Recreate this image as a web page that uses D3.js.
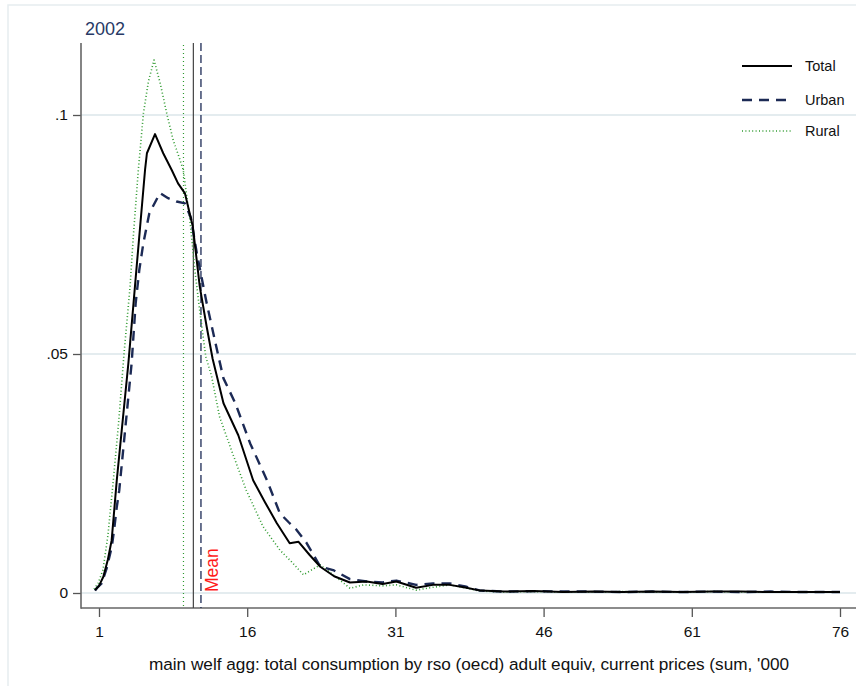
<!DOCTYPE html>
<html>
<head>
<meta charset="utf-8">
<script src="https://cdn.jsdelivr.net/npm/d3@7/dist/d3.min.js"></script>
<style>
  body { margin: 0; background: #fff; }
  svg text { font-family: "Liberation Sans", Arial, sans-serif; }
</style>
</head>
<body>
<svg id="chart" width="856" height="686"></svg>
<script>
// density estimates
var totalX = [0.6, 1.0, 1.44, 1.9, 2.28, 2.8, 3.97, 4.8, 5.66, 5.85, 6.67, 7.5, 8.36, 9.0, 9.7, 10.5, 11.2, 11.9, 12.5, 13.6, 15.1, 16.6, 17.8, 19.0, 20.3, 21.2, 22.3, 23.4, 24.8, 26.4, 28.1, 29.7, 31.1, 33.1, 34.8, 36.5, 38.2, 39.6, 42, 45, 48, 51, 54, 57, 60, 63, 66, 69, 72, 76];
var totalY = [0.0006, 0.0015, 0.0034, 0.007, 0.011, 0.0236, 0.048, 0.068, 0.0885, 0.092, 0.096, 0.092, 0.0885, 0.0857, 0.0836, 0.0766, 0.0641, 0.0557, 0.049, 0.0397, 0.033, 0.0236, 0.019, 0.0146, 0.0104, 0.0107, 0.008, 0.0055, 0.0035, 0.0022, 0.0024, 0.0019, 0.0024, 0.0011, 0.0017, 0.0017, 0.0011, 0.0005, 0.0003, 0.0004, 0.0002, 0.0003, 0.0002, 0.0003, 0.0002, 0.0003, 0.0003, 0.0002, 0.0002, 0.0002];

var urbanX = [0.6, 0.77, 1.27, 1.78, 2.3, 2.55, 2.8, 3.05, 4.3, 4.71, 5.08, 5.49, 6.09, 7.17, 8.0, 8.86, 9.7, 10.3, 10.9, 11.9, 13.1, 13.6, 14.8, 16.3, 18.0, 19.3, 20.2, 21.0, 22.0, 23.4, 24.7, 26.4, 28.1, 29.7, 31.1, 33.1, 34.8, 36.5, 38.2, 39.6, 42, 45, 48, 51, 54, 57, 60, 63, 66, 69, 72, 76];
var urbanY = [0.0005, 0.001, 0.002, 0.0052, 0.0097, 0.0136, 0.018, 0.0215, 0.048, 0.0606, 0.0676, 0.0732, 0.0794, 0.0837, 0.0826, 0.0819, 0.0815, 0.0785, 0.0711, 0.0606, 0.0494, 0.0449, 0.0397, 0.0313, 0.0236, 0.0167, 0.0148, 0.0132, 0.0105, 0.0055, 0.0048, 0.0029, 0.0024, 0.0022, 0.0026, 0.0017, 0.002, 0.002, 0.0013, 0.0005, 0.0003, 0.0004, 0.0003, 0.0003, 0.0002, 0.0003, 0.0002, 0.0003, 0.0002, 0.0003, 0.0002, 0.0002];

var ruralX = [0.5, 0.9, 1.4, 1.9, 2.45, 3.0, 3.53, 4.14, 4.47, 4.98, 5.5, 6.0, 6.57, 7.2, 7.85, 8.5, 9.2, 9.53, 10.2, 10.7, 11.2, 11.8, 12.4, 13.2, 14.4, 15.9, 17.6, 19.3, 20.5, 21.7, 22.5, 23.4, 24.7, 26.4, 27.8, 29.7, 31.1, 33.1, 34.8, 36.5, 38.2, 39.6, 42, 45, 48, 51, 54, 57, 60, 63, 66, 69, 72, 76];
var ruralY = [0.0008, 0.002, 0.0048, 0.012, 0.0236, 0.036, 0.050, 0.064, 0.0745, 0.0885, 0.1004, 0.107, 0.1115, 0.1066, 0.1004, 0.0948, 0.0906, 0.0885, 0.078, 0.0676, 0.059, 0.0495, 0.0453, 0.0369, 0.0299, 0.0215, 0.0139, 0.009, 0.0065, 0.0038, 0.0048, 0.0059, 0.0038, 0.001, 0.0017, 0.0015, 0.0017, 0.0006, 0.0012, 0.0017, 0.001, 0.0004, 0.0002, 0.0003, 0.0002, 0.0002, 0.0003, 0.0002, 0.0002, 0.0003, 0.0002, 0.0002, 0.0002, 0.0002];

// means (vertical reference lines)
var meanTotal = 10.55, meanUrban = 11.32, meanRural = 9.55;

var xTicks = [1, 16, 31, 46, 61, 76];
var yTicks = [0, 0.05, 0.1];
var yTickLabels = ["0", ".05", ".1"];
var seriesNames = ["Total", "Urban", "Rural"];

const svg = d3.select("#chart");
const plotLeft = 81, plotTop = 43, plotRight = 856, plotBottom = 608;

var x = d3.scaleLinear().domain([1, 76]).range([99, 840]);
var y = d3.scaleLinear().domain([0, 0.1]).range([593, 115]);

// outer frame
svg.append("rect")
    .attr("x", 8).attr("y", 5)
    .attr("width", 900).attr("height", 700)
    .attr("fill", "none")
    .attr("stroke", "#e6edf0")
    .attr("stroke-width", 1.5);

// gridlines
svg.append("g").selectAll("line")
    .data(yTicks)
    .enter().append("line")
    .attr("x1", plotLeft).attr("x2", plotRight)
    .attr("y1", d => y(d)).attr("y2", d => y(d))
    .attr("stroke", "#e4ecef")
    .attr("stroke-width", 2);

// axes
var yAxis = svg.append("g")
    .attr("transform", "translate(" + plotLeft + ",0)")
    .call(d3.axisLeft(y).tickValues(yTicks)
        .tickFormat((d, i) => yTickLabels[i])
        .tickSize(8).tickPadding(5));
var xAxis = svg.append("g")
    .attr("transform", "translate(0," + plotBottom + ")")
    .call(d3.axisBottom(x).tickValues(xTicks)
        .tickFormat(d3.format("d"))
        .tickSize(9).tickPadding(9));

[yAxis, xAxis].forEach(a => {
    a.select(".domain").remove();
    a.selectAll(".tick line").attr("stroke", "#555").attr("stroke-width", 1.3);
    a.selectAll(".tick text").attr("fill", "#111").style("font-size", "15.5px");
});

svg.append("line")
    .attr("x1", plotLeft).attr("x2", plotLeft).attr("y1", plotTop).attr("y2", plotBottom + 0.7)
    .attr("stroke", "#666").attr("stroke-width", 1.6);
svg.append("line")
    .attr("x1", plotLeft).attr("x2", plotRight).attr("y1", plotBottom).attr("y2", plotBottom)
    .attr("stroke", "#666").attr("stroke-width", 1.6);

// mean lines
svg.append("line")
    .attr("x1", x(meanRural)).attr("x2", x(meanRural))
    .attr("y1", plotTop + 2).attr("y2", plotBottom)
    .attr("stroke", "#2f9a2f").attr("stroke-width", 1.2)
    .attr("stroke-dasharray", "1,3");
svg.append("line")
    .attr("x1", x(meanTotal)).attr("x2", x(meanTotal))
    .attr("y1", plotTop).attr("y2", plotBottom)
    .attr("stroke", "#444").attr("stroke-width", 1.2);
svg.append("line")
    .attr("x1", x(meanUrban)).attr("x2", x(meanUrban))
    .attr("y1", plotTop).attr("y2", plotBottom)
    .attr("stroke", "#1c2a55").attr("stroke-width", 1.3)
    .attr("stroke-dasharray", "8,4");

svg.append("text")
    .attr("transform", "translate(" + (x(meanUrban) + 17) + ",592) rotate(-90)")
    .attr("fill", "#ff1a1a")
    .style("font-size", "17.5px")
    .text("Mean");

// density curves
var styles = {
    Total: { color: "#000", width: 2, dash: null },
    Urban: { color: "#1c2a55", width: 2.4, dash: "10,7" },
    Rural: { color: "#2f9a2f", width: 1.6, dash: "1,2.4" }
};
var series = [
    { name: "Rural", xs: ruralX, ys: ruralY },
    { name: "Urban", xs: urbanX, ys: urbanY },
    { name: "Total", xs: totalX, ys: totalY }
];
var line = d3.line().x(d => x(d[0])).y(d => y(d[1]));

svg.append("g").selectAll("path")
    .data(series)
    .enter().append("path")
    .attr("d", d => line(d3.zip(d.xs, d.ys)))
    .attr("fill", "none")
    .attr("stroke", d => styles[d.name].color)
    .attr("stroke-width", d => styles[d.name].width)
    .attr("stroke-dasharray", d => styles[d.name].dash)
    .attr("stroke-linejoin", "round");

// title
svg.append("text")
    .attr("x", 85).attr("y", 35)
    .attr("fill", "#283a66")
    .style("font-size", "18px")
    .text("2002");

// x axis title
svg.append("text")
    .attr("x", 469).attr("y", 670)
    .attr("text-anchor", "middle")
    .attr("fill", "#111")
    .style("font-size", "17.2px")
    .text("main welf agg: total consumption by rso (oecd) adult equiv, current prices (sum, '000");

// legend
var legendY = [66, 100, 131];
var legend = svg.append("g").selectAll("g")
    .data(seriesNames)
    .enter().append("g")
    .attr("transform", (d, i) => "translate(742," + legendY[i] + ")");
legend.append("line")
    .attr("x1", 0).attr("x2", 50)
    .attr("stroke", d => styles[d].color)
    .attr("stroke-width", d => styles[d].width)
    .attr("stroke-dasharray", d => styles[d].dash);
legend.append("text")
    .attr("x", 63).attr("dy", "0.35em")
    .attr("fill", "#111")
    .style("font-size", "14.5px")
    .text(d => d);
</script>
</body>
</html>
